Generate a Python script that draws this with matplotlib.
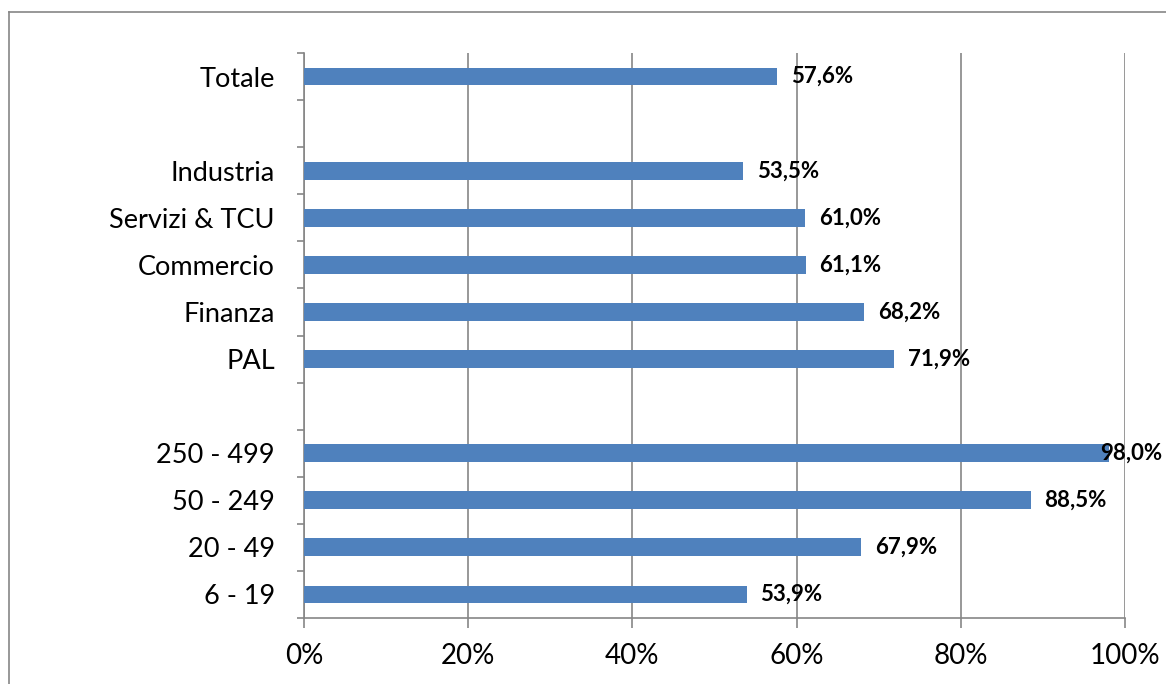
import matplotlib
matplotlib.use("Agg")
import matplotlib.pyplot as plt
from matplotlib.lines import Line2D
import numpy as np

plt.rcParams['font.family'] = ['Lato', 'DejaVu Sans']

categories = ["Totale", "", "Industria", "Servizi & TCU", "Commercio", "Finanza", "PAL",
              "", "250 - 499", "50 - 249", "20 - 49", "6 - 19"]
values = [57.6, None, 53.5, 61.0, 61.1, 68.2, 71.9, None, 98.0, 88.5, 67.9, 53.9]
value_labels = ["57,6%", "", "53,5%", "61,0%", "61,1%", "68,2%", "71,9%", "",
                "98,0%", "88,5%", "67,9%", "53,9%"]
x_ticks = [0, 20, 40, 60, 80, 100]
x_ticklabels = ["0%", "20%", "40%", "60%", "80%", "100%"]

W, H = 1166, 684
fig = plt.figure(figsize=(W / 100, H / 100), dpi=100)
ax = fig.add_axes([304 / W, 1 - 618 / H, (1125 - 304) / W, (618 - 53) / H])

grey = "#868686"
bar_color = "#4F81BD"
n = len(categories)
ypos = np.arange(n)

for y, v, lab in zip(ypos, values, value_labels):
    if v is None:
        continue
    ax.barh(y, v, height=0.38, color=bar_color, zorder=3)
    off = 10 if v < 95 else -6
    ax.annotate(lab, (v, y), xytext=(off, 0), textcoords="offset points",
                ha="left", va="center", fontsize=16, fontweight="bold",
                color="black", zorder=4, annotation_clip=False)

ax.set_xlim(0, 100)
ax.set_ylim(n - 0.5, -0.5)
ax.set_xticks(x_ticks)
ax.set_xticklabels(x_ticklabels, fontsize=20)
ax.set_yticks(ypos)
ax.set_yticklabels(categories, fontsize=19.5)
ax.set_yticks(np.arange(-0.5, n, 1.0), minor=True)
ax.tick_params(axis="y", which="major", length=0, pad=21)
ax.tick_params(axis="y", which="minor", length=5, color=grey, width=1.2)
ax.tick_params(axis="x", which="major", length=7, color=grey, width=1.2, pad=11)

ax.grid(axis="x", color=grey, linewidth=1.2, zorder=0)
for s in ["top", "right"]:
    ax.spines[s].set_visible(False)
for s in ["left", "bottom"]:
    ax.spines[s].set_color(grey)
    ax.spines[s].set_linewidth(1.2)

# outer chart frame
fig.add_artist(Line2D([9 / W, 9 / W], [0, 1 - 12 / H], transform=fig.transFigure,
                      color=grey, linewidth=1.2))
fig.add_artist(Line2D([9 / W, 1], [1 - 12 / H, 1 - 12 / H], transform=fig.transFigure,
                      color=grey, linewidth=1.2))

fig.savefig("out.png", dpi=100)
